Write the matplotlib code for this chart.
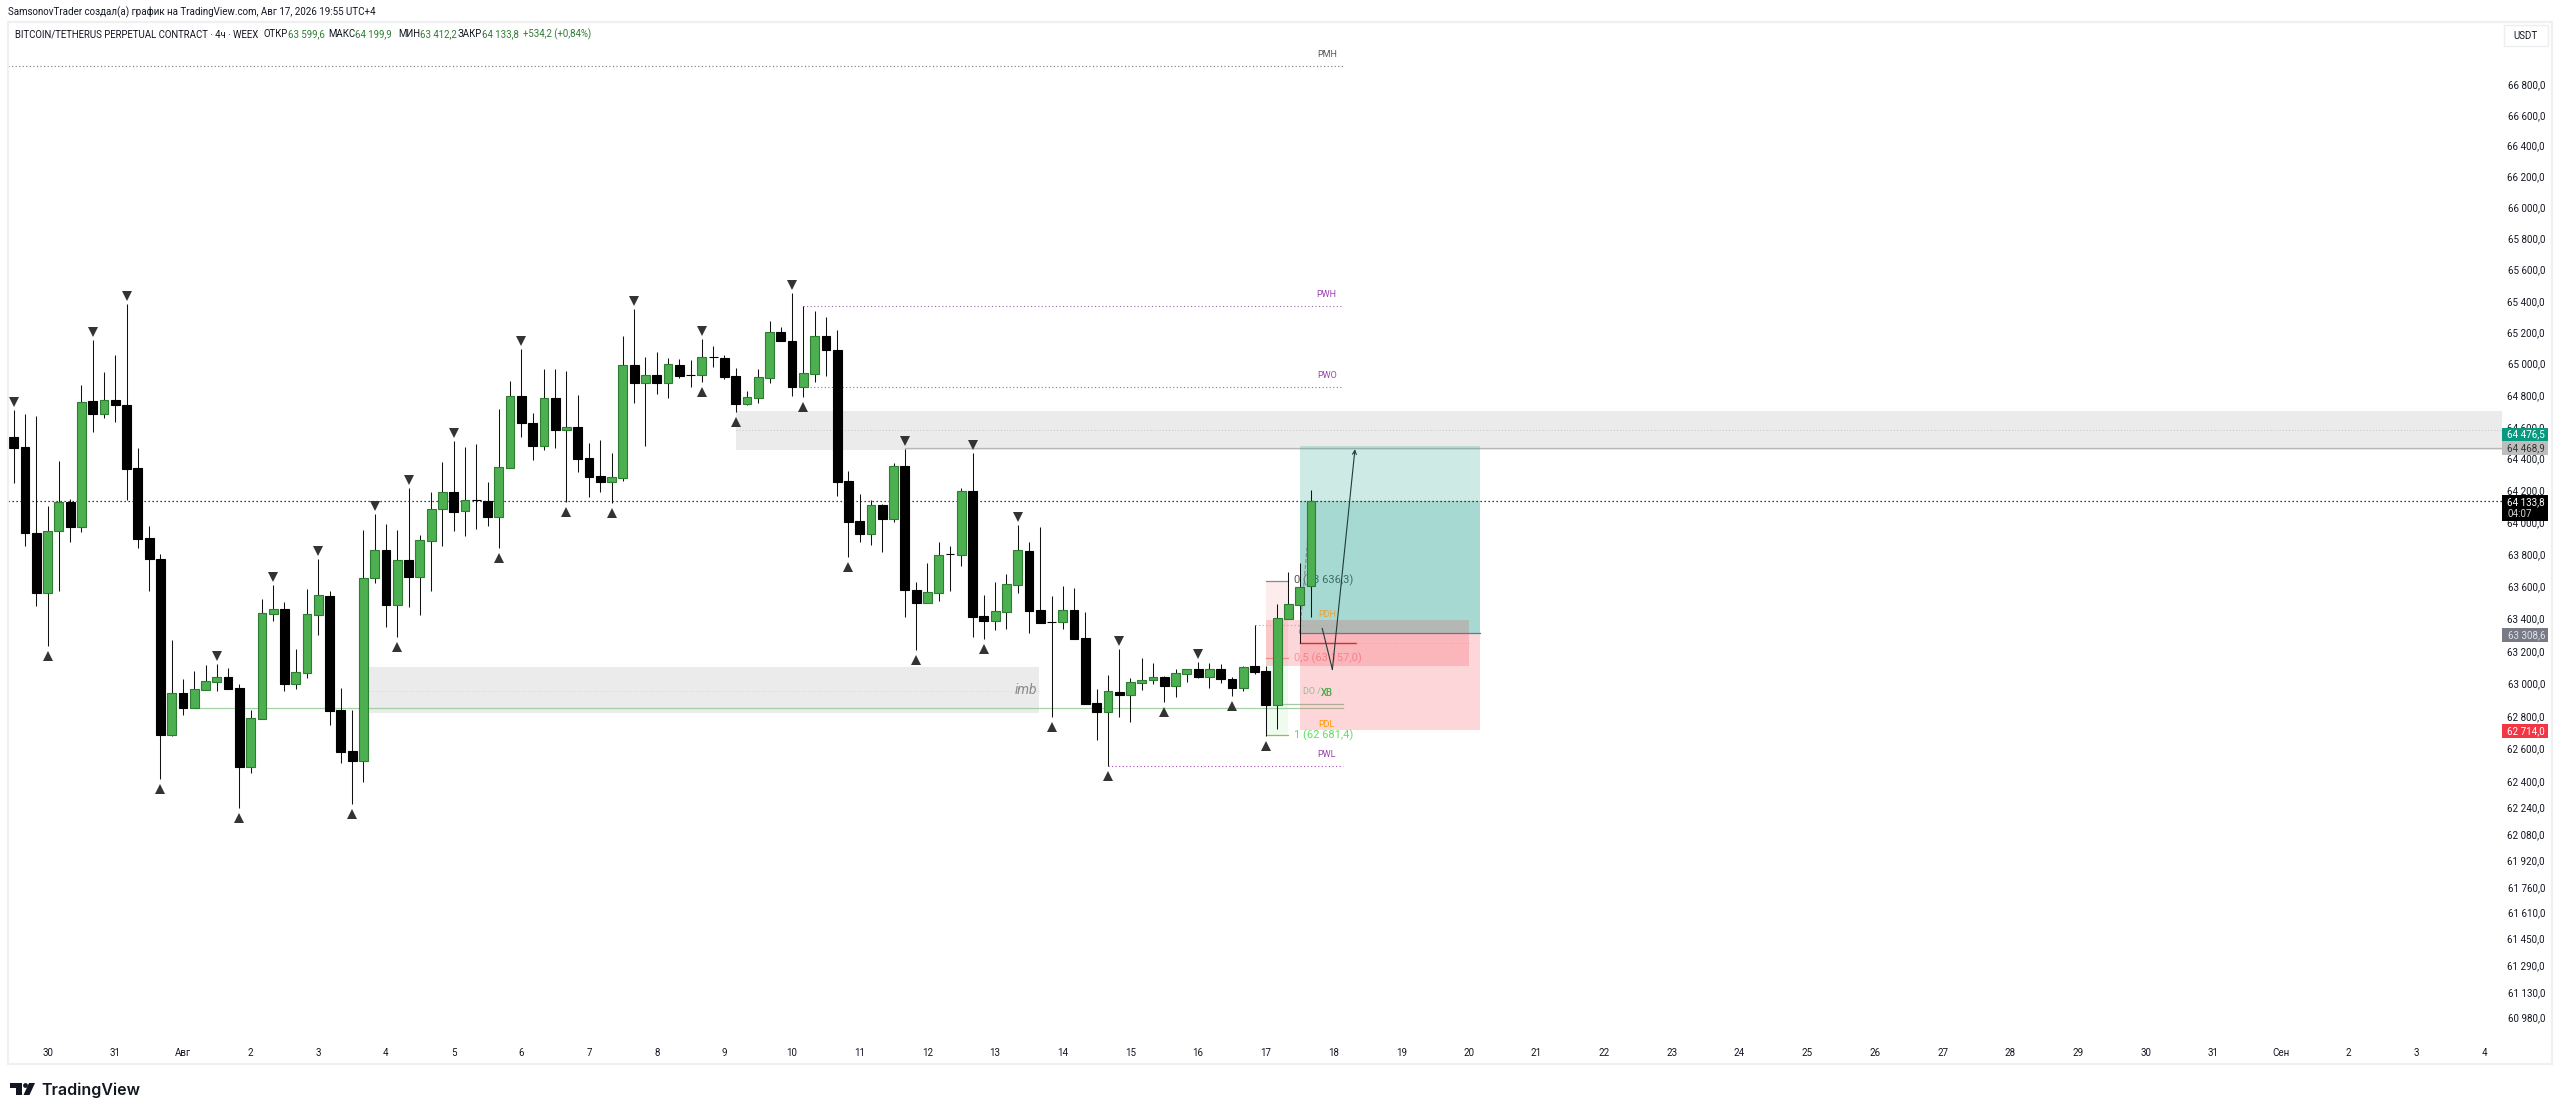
import numpy as np
import matplotlib
matplotlib.use("Agg")
import matplotlib.pyplot as plt
from matplotlib.patches import Rectangle, Polygon, Circle
from matplotlib.transforms import Affine2D, ScaledTranslation

plt.rcParams['font.family'] = ['Roboto', 'DejaVu Sans']

# 4h candles, index 0 = 30 Jul 00:00
first_idx = -3
opens = [64535, 64472, 63933, 63559, 63945, 64127, 63970, 64762, 64680, 64768,
         64737, 64340, 63902, 63771, 62684, 62941, 62849, 62960, 63009, 63039,
         62972, 62488, 62782, 63429, 63460, 62996, 63063, 63422, 63540, 62837,
         62585, 62524, 63652, 63827, 63484, 63765, 63659, 63883, 64083, 64189,
         64070, 64139, 64133, 64033, 64340, 64794, 64623, 64479, 64781, 64579,
         64598, 64403, 64290, 64252, 64277, 64991, 64877, 64927, 64877, 64991,
         64927, 64927, 65042, 65036, 64921, 64743, 64781, 64908, 65200, 65143,
         64851, 64934, 65175, 65086, 64258, 64007, 63926, 64108, 64020, 64353,
         63578, 63497, 63559, 63802, 63796, 64195, 63416, 63385, 63441, 63609,
         63820, 63453, 63379, 63379, 63453, 63280, 62880, 62825, 62947, 62928,
         63002, 63021, 63039, 62984, 63057, 63088, 63039, 63088, 63027, 62972,
         63107, 63076, 62868, 63398, 63484, 63599.6]
highs = [64705, 64680, 64667, 64102, 64384, 64145, 64864, 65150, 64947, 65055,
         65380, 64466, 63976, 63802, 63267, 63027, 63076, 63113, 63119, 63095,
         62996, 62837, 63522, 63609, 63503, 63212, 63584, 63771, 63571, 62972,
         62837, 63951, 64051, 63989, 63951, 64214, 63920, 64189, 64378, 64510,
         64472, 64491, 64252, 64712, 64889, 65092, 64686, 64966, 64966, 64953,
         64800, 64497, 64516, 64435, 65175, 65348, 65042, 65074, 65036, 65029,
         65023, 65156, 65112, 65055, 64972, 64826, 64966, 65270, 65232, 65450,
         65367, 65335, 65297, 65213, 64321, 64177, 64139, 64114, 64372, 64460,
         63627, 63746, 63877, 63852, 64214, 64435, 63547, 63627, 63677, 63982,
         63877, 63970, 63540, 63602, 63590, 63441, 62966, 63052, 63212, 63033,
         63156, 63125, 63045, 63088, 63088, 63131, 63125, 63119, 63039, 63107,
         63360, 63107, 63490, 63689, 63746, 64199.9]
lows = [64246, 63852, 63478, 63230, 63571, 63877, 63939, 64567, 64655, 64630,
        64139, 63839, 63571, 62415, 62678, 62806, 62849, 62960, 62953, 62966,
        62238, 62451, 62782, 63385, 62953, 62966, 63033, 63298, 62745, 62512,
        62262, 62396, 63621, 63348, 63286, 63472, 63422, 63571, 63852, 63945,
        63914, 63957, 63976, 63839, 64340, 64535, 64391, 64453, 64466, 64127,
        64315, 64158, 64189, 64120, 64258, 64750, 64479, 64806, 64781, 64908,
        64851, 64883, 64978, 64902, 64693, 64737, 64750, 64877, 65143, 64794,
        64787, 64883, 64921, 64164, 63783, 63877, 63858, 63814, 64001, 63410,
        63206, 63497, 63509, 63571, 63727, 63286, 63273, 63329, 63335, 63559,
        63310, 63373, 62794, 63335, 63273, 62874, 62653, 62494, 62794, 62763,
        62960, 62996, 62886, 62917, 63009, 63033, 62972, 63002, 62923, 62953,
        63057, 62678, 62720, 63398, 63249, 63412.2]
closes = [64466, 63933, 63559, 63945, 64127, 63970, 64756, 64680, 64768, 64737,
          64334, 63895, 63771, 62684, 62941, 62849, 62966, 63015, 63039, 62966,
          62488, 62788, 63435, 63460, 62996, 63070, 63429, 63547, 62831, 62579,
          62524, 63652, 63827, 63484, 63765, 63659, 63889, 64083, 64189, 64064,
          64139, 64139, 64033, 64347, 64794, 64623, 64479, 64781, 64579, 64598,
          64397, 64284, 64252, 64284, 64991, 64877, 64927, 64877, 64997, 64921,
          64927, 65042, 65042, 64915, 64743, 64787, 64915, 65200, 65143, 64851,
          64940, 65175, 65086, 64252, 64001, 63926, 64108, 64020, 64353, 63578,
          63497, 63565, 63796, 63802, 64195, 63410, 63385, 63447, 63615, 63827,
          63447, 63373, 63379, 63453, 63273, 62874, 62825, 62953, 62928, 63009,
          63021, 63039, 62984, 63063, 63088, 63039, 63088, 63027, 62972, 63101,
          63070, 62868, 63404, 63490, 63596, 64133.8]

swing_high_idx = [-3, 4, 7, 15, 20, 24, 29, 32, 36, 42, 52, 58, 66, 76, 82, 86, 95, 102]
swing_low_idx = [0, 10, 17, 27, 31, 40, 46, 50, 58, 61, 67, 71, 77, 83, 89, 94, 99, 105, 108]

price_ticks = [66800, 66600, 66400, 66200, 66000, 65800, 65600, 65400, 65200, 65000,
               64800, 64600, 64400, 64200, 64000, 63800, 63600, 63400, 63200, 63000,
               62800, 62600, 62400, 62240, 62080, 61920, 61760, 61610, 61450, 61290,
               61130, 60980]
day_labels = ['30', '31', 'Авг'] + [str(d) for d in range(2, 32)] + ['Сен', '2', '3', '4']

# drawings
pmh, pwh, pwo, pwl = 66918, 65367, 64852, 62494
pdh, pdl = 63358, 62745
fib_0, fib_half, fib_1 = 63636.3, 63157.0, 62681.4
zone_top, zone_bot, zone_mid = (64697, 64455, 64577)
imb_top, imb_bot, imb_mid = (63101, 62818, 62955)
eq_low, do_line = 62847, 62872
fvg_top, fvg_bot, red_line = 63391, 63107, 63247
target, entry, stop = 64476.5, 63308.6, 62714.0
last_close = closes[-1]
path_x = [113.0, 113.9, 115.9]
path_y = [63340, 63086, 64458]


def fmt(v):
    return f"{v:,.1f}".replace(",", " ").replace(".", ",")


W, H = 2560, 1114
fig = plt.figure(figsize=(W / 100, H / 100), dpi=100, facecolor='white')
# pixel coords with origin top left, for the page furniture only
pxt = Affine2D().scale(1 / W, -1 / H).translate(0, 1) + fig.transFigure

ax = fig.add_axes([8 / W, (H - 1040) / H, (2502 - 8) / W, (1040 - 22) / H])
ax.set_yscale('log')
ax.set_xlim(-3.51, 217.59)
ax.set_ylim(60843, 67206)
xr = 217.59
for s in ax.spines.values():
    s.set_visible(False)

# x / y axes
ax.set_xticks(np.arange(len(day_labels)) * 6)
ax.set_xticklabels(day_labels, fontsize=7, color='#131722')
ax.tick_params(axis='x', length=0, pad=6)
ax.yaxis.tick_right()
ax.set_yticks(price_ticks)
ax.set_yticks([], minor=True)
ax.set_yticklabels([fmt(v) for v in price_ticks], fontsize=7.1, color='#131722', ha='right')
ax.tick_params(axis='y', length=0, pad=31)


def box(x0, x1, y0, y1, color, alpha=1.0, z=1):
    ax.add_patch(Rectangle((x0, y0), x1 - x0, y1 - y0, facecolor=color, edgecolor='none',
                           alpha=alpha, zorder=z))


dots = (0, (1, 2.2))

# grey zones
box(61, xr, zone_bot, zone_top, '#ebebeb')
ax.plot([61, xr], [zone_mid, zone_mid], color='#c4c4c4', lw=0.7, ls=dots, zorder=1.1)
ax.plot([76, xr], [64468.9, 64468.9], color='#b8b8b8', lw=0.9, zorder=1.1)
box(28, 87.9, imb_bot, imb_top, '#ebebeb')
ax.plot([28, 87.9], [imb_mid, imb_mid], color='#d6d6d6', lw=0.7, ls=dots, zorder=1.1)
ax.text(87.7, 62960, 'imb', style='italic', fontsize=10, color='#8a8a8a', ha='right', va='center', zorder=1.2)
ax.plot([13, 114.8], [eq_low, eq_low], color='#a5d0a7', lw=0.9, zorder=1.2)
ax.plot([109, 114.8], [do_line, do_line], color='#a5c8a7', lw=0.9, zorder=1.2)

# fib
box(108, 110, fib_half, fib_0, '#fdecec')
box(108, 110, fib_1, fib_half, '#effbef')
ax.plot([108, 110], [fib_0, fib_0], color='#8a8a8a', lw=0.9, zorder=1.3)
ax.plot([108, 110], [fib_half, fib_half], color='#f2a0a0', lw=0.9, zorder=1.3)
ax.plot([108, 110], [fib_1, fib_1], color='#7ecb3f', lw=0.9, zorder=1.3)
ax.text(110.5, fib_0, '0 (63 636,3)', fontsize=8, color='#555555', va='center', zorder=1.3)
ax.text(110.5, fib_half, '0,5 (63 157,0)', fontsize=8, color='#f4b0b4', va='center', zorder=1.3)
ax.text(110.5, fib_1, '1 (62 681,4)', fontsize=8, color='#5fe05f', va='center', zorder=1.3)

# long position tool
box(111, 127, entry, target, '#089981', alpha=0.2, z=1.4)
box(111, 127, entry, last_close, '#089981', alpha=0.2, z=1.4)
box(111, 127, stop, entry, '#f23645', alpha=0.2, z=1.4)
ax.plot([111, 127], [entry, entry], color='#607d8b', lw=0.9, zorder=1.5)
ax.plot([111, 112], [entry, last_close], color='#888888', lw=0.8, ls='--', zorder=1.5)

# pink block with its mid line
box(108, 126, fvg_bot, fvg_top, '#f23645', alpha=0.2, z=1.6)
ax.plot([111, 116], [red_line, red_line], color='#d32f2f', lw=1, zorder=1.7)
ax.plot([116, 126], [red_line, red_line], color='#f0a0a8', lw=0.7, ls=dots, zorder=1.7)

# weekly / monthly levels
ax.plot([-3.51, 114.8], [pmh, pmh], color='#777777', lw=0.8, ls=dots, zorder=1.7)
ax.plot([67, 114.8], [pwh, pwh], color='#9a6aa8', lw=0.8, ls=dots, zorder=1.7)
ax.plot([67, 114.8], [pwo, pwo], color='#9a6aa8', lw=0.8, ls=dots, zorder=1.7)
ax.plot([94, 114.8], [pwl, pwl], color='#a64bb8', lw=0.8, ls=dots, zorder=1.7)
ax.plot([107, 114.8], [pdh, pdh], color='#e8a33d', lw=0.8, ls=dots, zorder=1.7)
for name, lvl, col in [('PMH', pmh, '#555555'), ('PWH', pwh, '#9c3fb0'), ('PWO', pwo, '#9c3fb0'),
                       ('PWL', pwl, '#9c3fb0'), ('PDH', pdh, '#e8a33d')]:
    ax.annotate(name, (113.4, lvl), xytext=(0, 8), textcoords='offset points', ha='center',
                va='center', fontsize=6.5, color=col, zorder=1.8)
ax.text(113.4, pdl, 'PDL', fontsize=6.5, color='#ff9800', ha='center', va='center', zorder=1.8)
ax.text(111.3, 62950, 'DO / ', fontsize=6.5, color='#9cb79c', va='center', zorder=1.8)
ax.text(113.4, 62940, 'X0', fontsize=7, color='#4caf50', va='center', ha='center', zorder=1.8)
ax.text(113.4, 62940, 'XB', fontsize=7, color='#4caf50', va='center', ha='center', zorder=1.8)

# last price line
ax.plot([-3.51, xr], [last_close, last_close], color='black', lw=0.9, ls=dots, zorder=2)

# candles
idx = np.arange(first_idx, first_idx + len(opens))
o, h, l, c = map(np.array, (opens, highs, lows, closes))
up = c > o
ax.vlines(idx, l, h, color='#111111', lw=0.75, zorder=3)
ax.bar(idx[up], (c - o)[up], bottom=o[up], width=0.78, color='#4caf50', edgecolor='#2e7d32',
       lw=0.8, zorder=3.1)
ax.bar(idx[~up], (o - c)[~up], bottom=c[~up], width=0.78, color='black', edgecolor='black',
       lw=0.8, zorder=3.1)

# swing markers
hi_off = ax.transData + ScaledTranslation(0, 0.08, fig.dpi_scale_trans)
lo_off = ax.transData + ScaledTranslation(0, -0.1, fig.dpi_scale_trans)
ax.plot(swing_high_idx, h[np.array(swing_high_idx) - first_idx], 'v', color='#333333', ms=6.5,
        mew=0, transform=hi_off, zorder=4)
ax.plot(swing_low_idx, l[np.array(swing_low_idx) - first_idx], '^', color='#333333', ms=6.5,
        mew=0, transform=lo_off, zorder=4)

# hand drawn path
ax.plot(path_x[:2], path_y[:2], color='#1d3b3a', lw=0.8, zorder=4)
ax.annotate('', xy=(path_x[2], path_y[2]), xytext=(path_x[1], path_y[1]),
            arrowprops=dict(arrowstyle='->', color='#1d3b3a', lw=0.8, shrinkA=0, shrinkB=0, mutation_scale=7),
            zorder=4)

# frame round the chart
fig.add_artist(Rectangle((8, 22), 2544, 1042, transform=pxt, fill=False, edgecolor='#f0f0f0', lw=1.6))
fig.add_artist(Rectangle((2504, 25), 44, 21, transform=pxt, facecolor='white', edgecolor='#eeeeee', lw=1))
fig.text(2526, 36, 'USDT', transform=pxt, fontsize=7, color='#131722', ha='center', va='center')

# price labels on the scale
scale_labels = [(428, 441, '#089981', 'white', fmt(target)),
                (441, 455, '#bdbdbd', '#333333', '64 468,9'),
                (628, 642, '#787b86', '#e0e3eb', fmt(entry)),
                (724, 738, '#f23645', 'white', fmt(stop))]
for y0, y1, bg, fg, txt in scale_labels:
    fig.add_artist(Rectangle((2502, y0), 46, y1 - y0, transform=pxt, facecolor=bg, edgecolor='none', zorder=5))
    fig.text(2545, (y0 + y1) / 2, txt, transform=pxt, fontsize=7.1, color=fg, ha='right', va='center', zorder=6)
fig.add_artist(Rectangle((2502, 495), 46, 26, transform=pxt, facecolor='black', edgecolor='none', zorder=5))
fig.text(2545, 502, fmt(last_close), transform=pxt, fontsize=7.1, color='white', ha='right', va='center', zorder=6)
fig.text(2508, 514, '04:07', transform=pxt, fontsize=7.1, color='#d0d0d0', va='center', zorder=6)

# header
fig.text(8, 12, 'SamsonovTrader создал(а) график на TradingView.com, Авг 17, 2026 19:55 UTC+4',
         transform=pxt, fontsize=7, color='#131722', va='center')
green = '#2e7d32'
# label texts end where the value starts, so they are right aligned on it
header = [(15, 'left', 'BITCOIN/TETHERUS PERPETUAL CONTRACT · 4ч · WEEX', '#131722'),
          (288, 'right', 'ОТКР', '#131722'), (288, 'left', '63 599,6', green),
          (355, 'right', 'МАКС', '#131722'), (355, 'left', '64 199,9', green),
          (420, 'right', 'МИН', '#131722'), (420, 'left', '63 412,2', green),
          (482, 'right', 'ЗАКР', '#131722'), (482, 'left', '64 133,8', green),
          (523, 'left', '+534,2 (+0,84%)', green)]
for x, align, txt, col in header:
    fig.text(x, 34, txt, transform=pxt, fontsize=6.9, color=col, ha=align, va='center')

# logo
fig.add_artist(Polygon([(10, 1083), (22, 1083), (22, 1095), (16, 1095), (16, 1088), (10, 1088)],
                       transform=pxt, facecolor='#131722', edgecolor='none'))
fig.add_artist(Circle((25.5, 1085.5), 2.4, transform=pxt, facecolor='#131722', edgecolor='none'))
fig.add_artist(Polygon([(29, 1083), (35, 1083), (29.5, 1095), (23.5, 1095)],
                       transform=pxt, facecolor='#131722', edgecolor='none'))
fig.text(41, 1090, 'TradingView', transform=pxt, fontsize=11.5, fontfamily='Inter', fontweight='semibold',
         color='#131722', va='center')

fig.savefig('out.png', dpi=100, facecolor='white')
